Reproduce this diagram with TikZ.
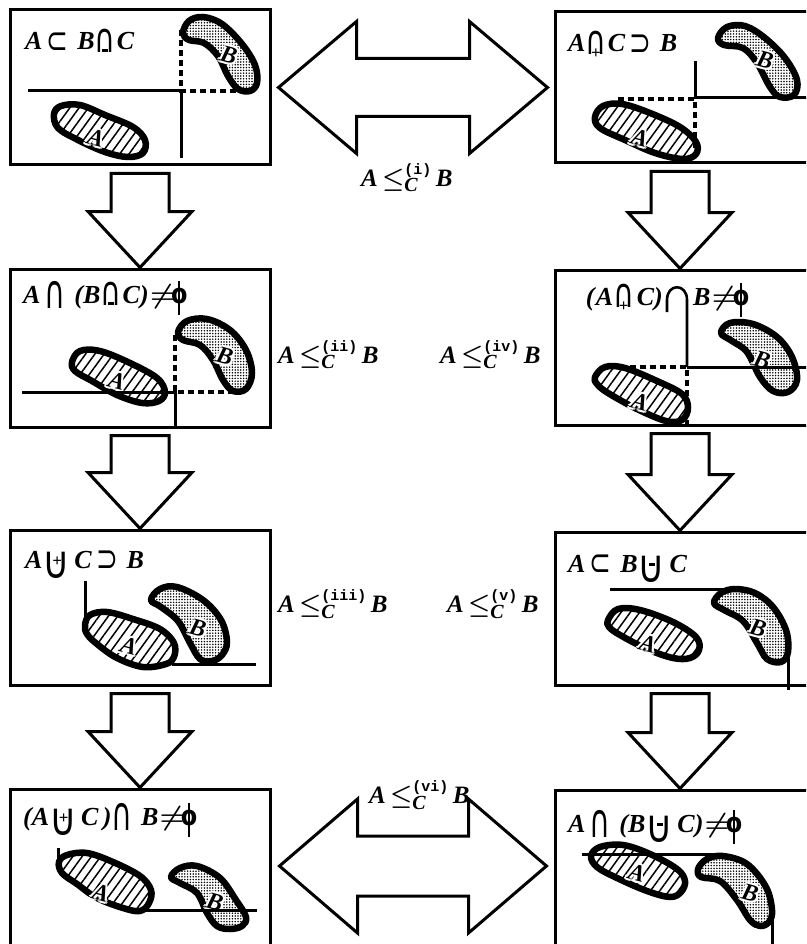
\documentclass[tikz,border=0pt]{standalone}
\usepackage{fontspec}
\setmainfont{Liberation Serif}
\setmonofont{Liberation Mono}
\newfontfamily\symf{DejaVu Sans}
\usepackage{graphicx}
\usetikzlibrary{calc,patterns.meta}

% operator symbols built from cap/cup with a mark inside
\newcommand\opcap{\raisebox{-0.1em}{\scalebox{1.1}[1.55]{\symf\mdseries\upshape ∩}}}
\newcommand\opcup{\raisebox{-0.42em}{\scalebox{1.45}[1.75]{\symf\mdseries\upshape ∪}}}
\newcommand\capbar{\ooalign{\opcap\cr\hidewidth\rule[-0.06em]{0.22em}{0.09em}\hidewidth\cr}}
\newcommand\capplus{\ooalign{\opcap\cr\hidewidth\raisebox{-0.26em}{\fontsize{17}{17}\selectfont\upshape\bfseries+}\hidewidth\cr}}
\newcommand\cupplus{\ooalign{\opcup\cr\hidewidth\kern0.06em\raisebox{0.05em}{\fontsize{17}{17}\selectfont\upshape\bfseries+}\hidewidth\cr}}
\newcommand\cupbar{\ooalign{\opcup\cr\hidewidth\kern0.06em\rule[0.25em]{0.22em}{0.09em}\hidewidth\cr}}
\newcommand\meet{\raisebox{-0.2em}{\scalebox{1.1}[1.8]{\symf\mdseries\upshape ∩}}}
% empty set: small oval crossed by a long upright stroke
\newcommand\emptyphi{\ooalign{\hidewidth\rule[-0.45em]{0.08em}{1.28em}\hidewidth\cr\scalebox{0.92}[1.05]{\symf\bfseries\upshape o}\cr}}
\newcommand\nonempty{\kern0.05em\scalebox{1.15}[1.1]{$\neq$}\kern-0.15em\emptyphi}
\newcommand\sub{\raisebox{-0.12em}{\scalebox{1.0}[1.45]{\symf\mdseries\upshape ⊂}}}
\newcommand\sups{\raisebox{-0.12em}{\scalebox{1.0}[1.45]{\symf\mdseries\upshape ⊃}}}
% A <=_C^(k) B
\newcommand\relC[1]{A\,$\leq^{\mbox{\ttfamily\upshape\fontsize{15}{15}\selectfont(#1)}}_{\mbox{\itshape\fontsize{20}{20}\selectfont C}}$\,B}
% letter with a white rim so it stands out of the fill
\newcommand\halo[1]{%
  \makebox[0pt][l]{\color{white}\kern-2pt#1}%
  \makebox[0pt][l]{\color{white}\kern2pt#1}%
  \makebox[0pt][l]{\color{white}\raisebox{2pt}{#1}}%
  \makebox[0pt][l]{\color{white}\raisebox{-2pt}{#1}}%
  \makebox[0pt][l]{\color{white}\kern-1.5pt\raisebox{1.5pt}{#1}}%
  \makebox[0pt][l]{\color{white}\kern1.5pt\raisebox{1.5pt}{#1}}%
  \makebox[0pt][l]{\color{white}\kern-1.5pt\raisebox{-1.5pt}{#1}}%
  \makebox[0pt][l]{\color{white}\kern1.5pt\raisebox{-1.5pt}{#1}}%
  #1}

\tikzset{
  box/.style={draw, line width=3pt, fill=white, inner sep=0pt},
  blockarrow/.style={draw, line width=3pt, fill=white, line join=miter},
  blob/.style={draw, line width=6.5pt, line join=round},
  hatchA/.style={blob, pattern={Lines[angle=54,distance=7.5pt,line width=1.5pt]}},
  dotsB/.style={blob, pattern={Dots[distance=2.8pt,radius=0.85pt]}},
  guide/.style={line width=3pt},
  guidedash/.style={line width=3.5pt, dash pattern=on 6pt off 4pt},
  title/.style={anchor=base west, inner sep=0pt,
    font=\fontsize{26}{30}\selectfont\bfseries\itshape\boldmath},
  rel/.style={anchor=base west, inner sep=0pt,
    font=\fontsize{25}{30}\selectfont\bfseries\itshape\boldmath},
  letter/.style={inner sep=0pt, font=\fontsize{24}{24}\selectfont\bfseries\itshape, rotate=-15},
}

\begin{document}
\begin{tikzpicture}[x=1pt,y=-1pt]
\useasboundingbox (0,0) rectangle (806,944);
\clip (0,0) rectangle (806,944);

% frames
\node[box, minimum width=260pt, minimum height=155pt] (L1) at (140,87.5) {};
\node[box, minimum width=260pt, minimum height=158pt] (L2) at (140,348) {};
\node[box, minimum width=260pt, minimum height=155pt] (L3) at (140,607.5) {};
\node[box, minimum width=260pt, minimum height=170pt] (L4) at (140,874) {};
\node[box, minimum width=260pt, minimum height=151pt] (R1) at (685,87.5) {};
\node[box, minimum width=260pt, minimum height=155pt] (R2) at (685,347.5) {};
\node[box, minimum width=260pt, minimum height=153pt] (R3) at (685,608.5) {};
\node[box, minimum width=260pt, minimum height=170pt] (R4) at (685,875) {};

% downward block arrows
\foreach \a/\b/\dx in {L1/L2/0, L2/L3/0, L3/L4/0, R1/R2/-5, R2/R3/-5, R3/R4/-5}{
  \draw[blockarrow] let \p1=($(\a.south)+(\dx,7)$), \p2=($(\b.north)+(\dx,0)$) in
    (\x1-29pt,\y1) -- (\x1+29pt,\y1) -- (\x1+29pt,\y2+56pt) -- (\x1+52pt,\y2+56pt)
    -- (\x2,\y2) -- (\x1-52pt,\y2+56pt) -- (\x1-29pt,\y2+56pt) -- cycle;
}

% double block arrows
\draw[blockarrow] let \p1=($(L1.east)+(7,0)$), \p2=($(R1.west)+(-6,0)$) in
  (\x1,\y1) -- (\x1+78pt,\y1+66pt) -- (\x1+78pt,\y1+29pt) -- (\x2-78pt,\y1+29pt)
  -- (\x2-78pt,\y1+66pt) -- (\x2,\y1) -- (\x2-78pt,\y1-66pt) -- (\x2-78pt,\y1-29pt)
  -- (\x1+78pt,\y1-29pt) -- (\x1+78pt,\y1-66pt) -- cycle;
\draw[blockarrow] let \p1=($(L4.east)+(8,-8)$), \p2=($(R4.west)+(-7,-9)$) in
  (\x1,\y1) -- (\x1+78pt,\y1+67pt) -- (\x1+78pt,\y1+30pt) -- (\x2-78pt,\y1+30pt)
  -- (\x2-78pt,\y1+67pt) -- (\x2,\y1) -- (\x2-78pt,\y1-67pt) -- (\x2-78pt,\y1-30pt)
  -- (\x1+78pt,\y1-30pt) -- (\x1+78pt,\y1-67pt) -- cycle;

% relation labels
\node[rel] (r1) at (361,186) {\relC{i}};
\node[rel] (r2) at (278,363) {\relC{ii}};
\node[rel] (r4) at (440,363) {\relC{iv}};
\node[rel] (r3) at (278,612) {\relC{iii}};
\node[rel] (r5) at (447,612) {\relC{v}};
\node[rel] (r6) at (369,803) {\relC{vi}};

% ---------- frame L1 ----------
\node[title] (t1) at (25,50) {A\,\sub\,\,B\capbar\kern0.05em C};
\draw[dotsB] plot[smooth cycle, tension=0.6] coordinates {(183,33) (189,21) (203,17) (222,24) (242,44) (255,65) (257,83) (250,91) (238,89) (228,76) (218,56) (204,43) (189,40)};
\draw[hatchA] plot[smooth cycle, tension=0.6] coordinates {(54,114) (61,106) (80,105) (105,115) (133,127) (145,140) (143,153) (128,157) (105,152) (78,140) (58,128)};
\node[letter] (b1) at (229,55) {\halo{B}};
\node[letter] (a1) at (96,138) {\halo{A}};
\draw[guide] (28,91) -- (181,91) -- (181,158);
\draw[guidedash] (181,30) -- (181,91) -- (240,91);

% ---------- frame R1 ----------
\node[title] (t2) at (568,52) {A\capplus\kern0.05em C\,\sups\,\,B};
\draw[dotsB] plot[smooth cycle, tension=0.6] coordinates {(718,38) (727,27) (745,26) (765,38) (785,58) (797,80) (794,95) (780,97) (770,87) (757,63) (743,48) (724,45)};
\draw[hatchA] plot[smooth cycle, tension=0.6] coordinates {(595,117) (603,106) (622,104) (650,113) (680,127) (696,142) (696,154) (683,159) (655,153) (625,140) (600,128)};
\node[letter] (b2) at (765,60) {\halo{B}};
\node[letter] (a2) at (640,138) {\halo{A}};
\draw[guide] (695,61) -- (695,98) -- (810,98);
\draw[guidedash] (618,99) -- (695,99) -- (695,150);

% ---------- frame L2 ----------
\node[title] (t3) at (23,303) {A\,\meet\,\,(B\capbar\kern0.05em C)\nonempty};
\draw[dotsB] plot[smooth cycle, tension=0.6] coordinates {(178,332) (187,321) (207,319) (230,330) (246,350) (252,373) (246,389) (233,391) (223,380) (213,360) (200,345) (183,340)};
\draw[hatchA] plot[smooth cycle, tension=0.6] coordinates {(72,362) (80,351) (100,351) (130,363) (157,378) (165,392) (159,401) (142,403) (117,395) (92,381) (75,371)};
\node[letter] (b3) at (225,356) {\halo{B}};
\node[letter] (a3) at (117,381) {\halo{A}};
\draw[guide] (22,392) -- (175,392) -- (175,427);
\draw[guidedash] (175,335) -- (175,392) -- (235,392);

% ---------- frame R2 ----------
\node[title, anchor=base east] (t4) at (663,305) {(\kern0.05em A\capplus\kern0.1em C)};
\node[title] (t4b) at (693,305) {B\nonempty};
\draw[guide, line width=2.6pt] (667,312) -- (667,300) .. controls (667,283) and (687,283) .. (687,300) -- (687,367);
\draw[dotsB] plot[smooth cycle, tension=0.6] coordinates {(721,333) (730,323) (753,324) (777,337) (792,357) (797,380) (788,392) (773,391) (760,377) (747,352) (732,341)};
\draw[hatchA] plot[smooth cycle, tension=0.6] coordinates {(595,377) (605,367) (625,368) (657,381) (682,394) (688,408) (682,420) (666,421) (637,409) (608,393) (597,384)};
\node[letter] (b4) at (762,360) {\halo{B}};
\node[letter] (a4) at (640,402) {\halo{A}};
\draw[guide] (687,367) -- (810,367);
\draw[guidedash] (610,367) -- (687,367) -- (687,425);

% ---------- frame L3 ----------
\node[title] (t5) at (25,568) {A\cupplus\,C\,\sups\,\,B};
\draw[hatchA] plot[smooth cycle, tension=0.6] coordinates {(85,625) (90,615) (107,612) (133,619) (160,629) (174,643) (174,657) (166,664) (143,667) (117,658) (97,644) (87,634)};
\draw[dotsB] plot[smooth cycle, tension=0.6] coordinates {(151,600) (160,589) (177,587) (203,600) (221,620) (227,642) (222,655) (212,661) (200,659) (190,643) (178,621) (161,607)};
\node[letter] (a5) at (129,646) {\halo{A}};
\node[letter] (b5) at (198,628) {\halo{B}};
\draw[guide] (85,581) -- (85,622);
\draw[guide] (172,664) -- (256,664);

% ---------- frame R3 ----------
\node[title] (t6) at (568,572) {A\,\sub\,\,B\cupbar\,C};
\draw[dotsB] plot[smooth cycle, tension=0.6] coordinates {(714,603) (721,593) (735,589) (755,593) (773,607) (786,630) (788,652) (781,662) (767,659) (757,643) (743,621) (724,610)};
\draw[hatchA] plot[smooth cycle, tension=0.6] coordinates {(608,620) (618,609) (640,610) (673,622) (696,637) (699,650) (690,658) (673,658) (647,649) (620,635) (609,627)};
\node[letter] (b6) at (758,628) {\halo{B}};
\node[letter] (a6) at (648,644) {\halo{A}};
\draw[guide] (610,589) -- (730,589);
\draw[guide] (788,652) -- (788,690);

% ---------- frame L4 ----------
\node[title] (t7) at (23,825) {(A\cupplus\,C\,)\meet\,\,B\nonempty};
\draw[hatchA] plot[smooth cycle, tension=0.6] coordinates {(59,862) (67,855) (87,853) (113,862) (140,876) (151,890) (149,903) (140,911) (123,908) (97,898) (77,884) (62,873)};
\draw[dotsB] plot[smooth cycle, tension=0.6] coordinates {(171,877) (180,868) (197,866) (220,878) (236,900) (246,917) (242,926) (230,929) (217,926) (207,913) (197,893) (180,883)};
\node[letter] (a7) at (101,893) {\halo{A}};
\node[letter] (b7) at (215,902) {\halo{B}};
\draw[guide] (58,848) -- (58,866);
\draw[guide] (145,910) -- (257,910);

% ---------- frame R4 ----------
\node[title] (t8) at (568,832) {A\,\meet\,\,(B\cupbar\,C)\nonempty};
\draw[hatchA] plot[smooth cycle, tension=0.6] coordinates {(591,856) (600,847) (623,845) (650,854) (677,869) (685,881) (681,892) (670,897) (647,891) (617,878) (597,867)};
\draw[dotsB] plot[smooth cycle, tension=0.6] coordinates {(698,869) (707,859) (723,856) (747,864) (766,887) (772,910) (769,922) (760,926) (750,920) (737,900) (720,881) (701,877)};
\node[letter] (a8) at (637,873) {\halo{A}};
\node[letter] (b8) at (750,893) {\halo{B}};
\draw[guide] (582,854) -- (722,854);
\draw[guide] (772,918) -- (772,950);
\end{tikzpicture}
\end{document}
